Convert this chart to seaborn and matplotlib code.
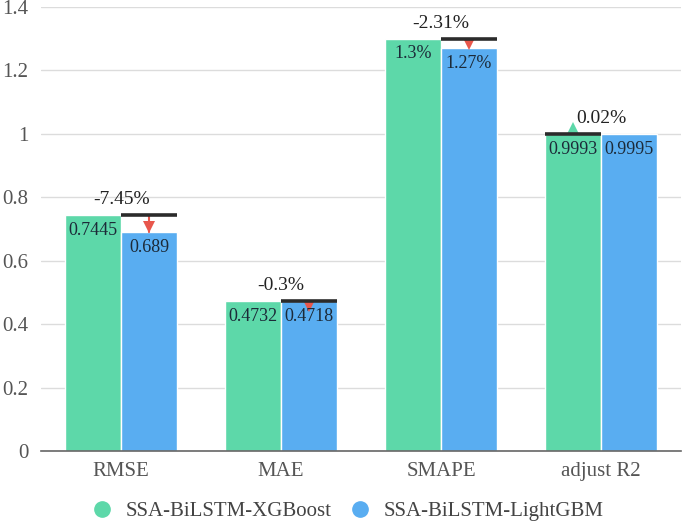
import numpy as np
import pandas as pd
import seaborn as sns
import matplotlib.pyplot as plt
from matplotlib.transforms import offset_copy

metrics = ['RMSE', 'MAE', 'SMAPE', 'adjust R2']
models = ['SSA-BiLSTM-XGBoost', 'SSA-BiLSTM-LightGBM']
xgb_vals = [0.7445, 0.4732, 1.3, 0.9993]
lgb_vals = [0.689, 0.4718, 1.27, 0.9995]
xgb_text = ['0.7445', '0.4732', '1.3%', '0.9993']
lgb_text = ['0.689', '0.4718', '1.27%', '0.9995']
change_text = ['-7.45%', '-0.3%', '-2.31%', '0.02%']
yticks = [0, 0.2, 0.4, 0.6, 0.8, 1, 1.2, 1.4]
ytick_labels = ['0', '0.2', '0.4', '0.6', '0.8', '1', '1.2', '1.4']

colors = ['#5dd8a9', '#59adf1']
red = '#e8574c'

df = pd.DataFrame({
    'metric': metrics * 2,
    'model': [models[0]] * 4 + [models[1]] * 4,
    'value': xgb_vals + lgb_vals,
})

sns.set_style('white')
plt.rcParams['font.family'] = ['Liberation Serif', 'DejaVu Serif']

fig = plt.figure(figsize=(6.85, 5.25), dpi=100)
ax = fig.add_axes([0.060, 0.141, 0.934, 0.846])

sns.barplot(data=df, x='metric', y='value', hue='model', palette=colors,
            width=0.7, saturation=1, ax=ax, legend=False, zorder=2)

ax.set_ylim(0, 1.4)
ax.set_xlim(-0.5, 3.5)
ax.set_yticks(yticks)
ax.set_yticklabels(ytick_labels)
ax.yaxis.grid(True, color='#dcdcdc', lw=1, zorder=0)
ax.set_axisbelow(True)
ax.set_xlabel('')
ax.set_ylabel('')
for s in ['top', 'right', 'left']:
    ax.spines[s].set_visible(False)
ax.spines['bottom'].set_color('#666666')
ax.spines['bottom'].set_linewidth(1.2)
ax.tick_params(axis='x', length=5, color='#666666', labelsize=15, labelcolor='#555555', pad=3)
ax.tick_params(axis='y', length=0, labelsize=15, labelcolor='#555555', pad=9)

hw = 0.35
ms = 8          # triangle marker size in points
tri_h = ms * 0.5  # half triangle height (points)
px_per_pt = fig.dpi / 72.0


def ypx(v):
    return ax.transData.transform((0, v))[1]


for i in range(len(metrics)):
    g, b = xgb_vals[i], lgb_vals[i]
    xg, xb = i - hw / 2, i + hw / 2
    ax.annotate(xgb_text[i], (xg, g), xytext=(0, -5), textcoords='offset points',
                ha='center', va='top', fontsize=13, color='#1c2a38', zorder=5)
    ax.annotate(lgb_text[i], (xb, b), xytext=(0, -5), textcoords='offset points',
                ha='center', va='top', fontsize=13, color='#1c2a38', zorder=5)
    if b < g:
        # line over the lower bar at the higher bar's level, arrow pointing down
        ax.plot([i, i + hw], [g, g], color='#2b2b2b', lw=2.6, zorder=4, solid_capstyle='butt')
        gap_pt = (ypx(g) - ypx(b)) / px_per_pt
        drop = max(gap_pt, 2 * tri_h)
        if gap_pt > 2 * tri_h:
            ax.plot([xb, xb], [g, b], color=red, lw=1.5, zorder=3)
        tr = offset_copy(ax.transData, fig=fig, x=0, y=-(drop - tri_h), units='points')
        ax.plot([xb], [g], marker='v', markersize=ms, color=red, zorder=3,
                transform=tr, markeredgewidth=0)
        top = g
    else:
        ax.plot([i - hw, i], [b, b], color='#2b2b2b', lw=2.6, zorder=4, solid_capstyle='butt')
        tr = offset_copy(ax.transData, fig=fig, x=0, y=tri_h, units='points')
        ax.plot([xg], [b], marker='^', markersize=ms, color=colors[0], zorder=3,
                transform=tr, markeredgewidth=0)
        top = b
    ax.annotate(change_text[i], (i, top), xytext=(0, 5), textcoords='offset points',
                ha='center', va='bottom', fontsize=14, color='#222222', zorder=5)

handles = [plt.Line2D([], [], marker='o', ls='', markersize=11, color=c) for c in colors]
fig.legend(handles, models, loc='lower center', bbox_to_anchor=(0.5, -0.028), ncol=2,
           frameon=False, fontsize=15, handletextpad=0.1, columnspacing=0.4,
           labelcolor='#444444')

fig.savefig('out.png', dpi=100)
